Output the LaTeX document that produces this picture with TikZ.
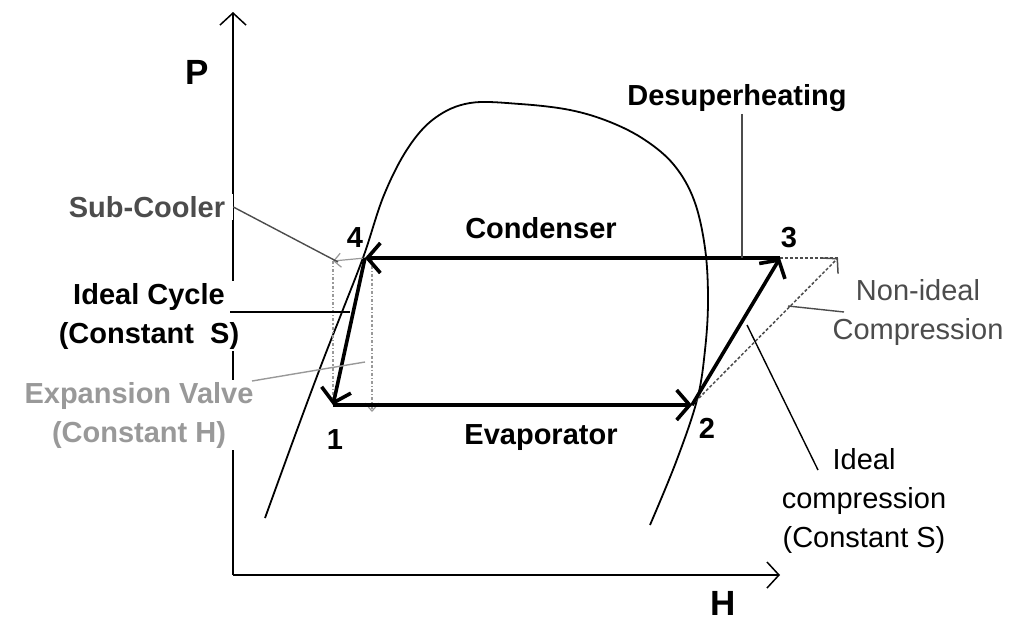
\documentclass[tikz,border=0pt]{standalone}
\usepackage{fontspec}
\setmainfont{Liberation Sans}
\usetikzlibrary{arrows.meta}
\definecolor{subgray}{gray}{0.3}
\definecolor{valvegray}{gray}{0.6}
\tikzset{
    axisline/.style={line width=1.5pt, -{Straight Barb[length=12pt,width=26pt]}},
    cycleline/.style={line width=3.6pt, -{Straight Barb[length=13pt,width=30pt]}},
    domeline/.style={line width=1.8pt},
    leader/.style={line width=1.4pt},
    boldlabel/.style={font=\fontsize{29}{39}\selectfont\bfseries, align=center, inner sep=2pt},
    plainlabel/.style={font=\fontsize{29}{39}\selectfont, align=center, inner sep=2pt},
    axislabel/.style={font=\fontsize{35}{38}\selectfont\bfseries, inner sep=1pt},
    sidelabel/.style={boldlabel, fill=white, inner xsep=8pt}
}

\begin{document}
\begin{tikzpicture}[x=1pt,y=-1pt]
\useasboundingbox (0,0) rectangle (1011,622);

% axes
\coordinate (origin) at (233,575);
\coordinate (ptop) at (233,12);
\coordinate (hend) at (780,575);
\draw[axisline] (origin) -- (ptop);
\draw[axisline] (origin) -- (hend);
\node[axislabel] (plab) at (197,72) {P};
\node[axislabel] (hlab) at (723,603) {H};

% saturation dome
\draw[domeline] plot[smooth, tension=0.6] coordinates {
    (265,518) (297,430) (322,363) (342,312) (364,255) (384,195)
    (408,148) (435,118) (470,103) (520,104) (570,110) (610,122)
    (645,140) (674,165) (694,200) (705,248) (708,300) (705,350)
    (697,400) (676,462) (650,525)};

% cycle points
\coordinate (p1) at (333,405);
\coordinate (p2) at (692,405);
\coordinate (p3) at (780,258);
\coordinate (p4) at (365,258);
\coordinate (sc) at (333,261);
\coordinate (ni) at (838,258);
\coordinate (v4) at (372,258);
\coordinate (v1) at (372,412);

% non-ideal compression
\draw[line width=1.5pt, densely dashed, subgray] (p3) -- (ni);
\draw[line width=1.5pt, densely dashed, subgray, -{Straight Barb[length=10pt,width=22pt]}] (p2) -- (ni);

% sub-cooler and expansion valve
\draw[line width=1.2pt, valvegray, -{Straight Barb[length=7pt,width=14pt]}] (p4) -- (sc);
\draw[line width=1.2pt, valvegray, dash dot] (sc) -- (p1);
\draw[line width=1.2pt, valvegray, dash dot, -{Straight Barb[length=8pt,width=14pt]}] (v4) -- (v1);

% ideal cycle
\draw[cycleline] (p3) -- (p4);
\draw[cycleline] (p4) -- (p1);
\draw[cycleline] (p1) -- (p2);
\draw[cycleline] (p2) -- (p3);

% point numbers
\node[boldlabel] (n1) at (335,440) {1};
\node[boldlabel] (n2) at (707,428) {2};
\node[boldlabel] (n3) at (789,238) {3};
\node[boldlabel] (n4) at (355,238) {4};
\node[boldlabel] (cond) at (541,228) {Condenser};
\node[boldlabel] (evap) at (541,438) {Evaporator};

% left labels
\node[sidelabel, text=subgray] (subcool) at (147,207) {Sub-Cooler};
\node[sidelabel] (ideal) at (149,316) {Ideal Cycle\\(Constant~~S)};
\node[sidelabel, text=valvegray] (valve) at (139,415) {Expansion Valve\\(Constant H)};
\coordinate (subend) at (338,262);
\coordinate (idealstart) at (230,312);
\coordinate (idealend) at (350,312);
\coordinate (valvestart) at (252,381);
\coordinate (valveend) at (365,362);
\draw[leader, subgray] (subcool.east) -- (subend);
\draw[leader] (idealstart) -- (idealend);
\draw[leader, valvegray] (valvestart) -- (valveend);

% right labels
\node[boldlabel] (desup) at (737,98) {Desuperheating};
\coordinate (desupend) at (742,258);
\draw[leader, subgray] (desup.south -| desupend) -- (desupend);
\node[plainlabel, text=subgray] (nonideal) at (918,312) {Non-ideal\\Compression};
\coordinate (nistart) at (788,306);
\coordinate (niend) at (844,312);
\draw[leader, subgray] (nistart) -- (niend);
\node[plainlabel] (idealcomp) at (864,501) {Ideal\\compression\\(Constant S)};
\coordinate (icstart) at (747,325);
\coordinate (icend) at (818,470);
\draw[leader] (icstart) -- (icend);
\end{tikzpicture}
\end{document}
